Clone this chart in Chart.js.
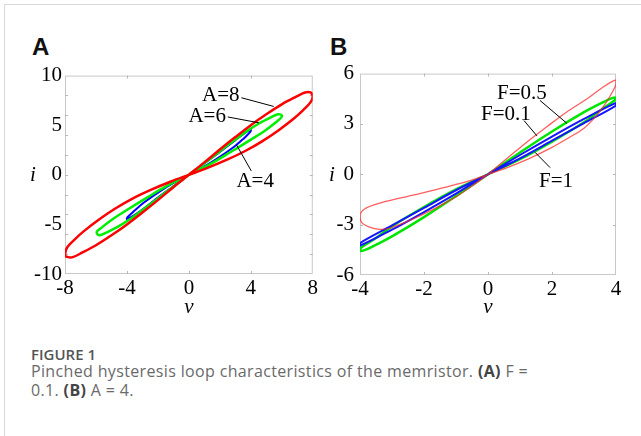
<!DOCTYPE html>
<html>
<head>
<meta charset="utf-8">
<script src="https://cdn.jsdelivr.net/npm/chart.js@4.4.0/dist/chart.umd.min.js"></script>
<style>
  body { margin: 0; width: 641px; height: 436px; background: #fff; position: relative; overflow: hidden; }
  .edge { position: absolute; left: 4px; top: 4px; width: 700px; height: 500px; border-left: 1px solid #d8d8d8; border-top: 1px solid #d8d8d8; }
  .panel { position: absolute; font: bold 24px "Liberation Sans", sans-serif; color: #111; }
  canvas { position: absolute; }
  #fig { position: absolute; left: 31px; top: 344px; font: 600 15px "Open Sans", sans-serif; color: #555; line-height: 20px; }
  #cap { position: absolute; left: 31px; top: 362px; font: 16px "Open Sans", sans-serif; letter-spacing: 0.35px; color: #6a6a6a; line-height: 19px; }
  #cap b { color: #444; }
</style>
</head>
<body>
<div class="edge"></div>
<div class="panel" style="left:32px;top:33px">A</div>
<div class="panel" style="left:330px;top:33px">B</div>
<canvas id="chartA" width="300" height="260" style="left:20px;top:60px"></canvas>
<canvas id="chartB" width="321" height="265" style="left:320px;top:55px"></canvas>
<div id="fig">FIGURE 1</div>
<div id="cap">Pinched hysteresis loop characteristics of the memristor. <b>(A)</b> F =<br>0.1. <b>(B)</b> A = 4.</div>
<script>
// Panel A: F = 0.1, amplitude A = 8, 6, 4
const vA8 = [0, 1.0, 2.0, 3.0, 4.0, 5.0, 6.0, 6.9, 7.5, 7.85, 8.0, 7.85, 7.4, 6.8, 5.8, 4.75, 3.7, 2.5, 1.2, 0,
  -1.2, -2.5, -3.7, -4.75, -5.8, -6.8, -7.4, -7.85, -8.0, -7.8, -7.5, -6.9, -6.0, -5.0, -4.0, -3.0, -2.0, -1.0, 0];
const iA8 = [0, 1.25, 2.55, 3.8, 5.0, 6.1, 7.1, 7.85, 8.3, 8.3, 7.9, 7.3, 6.55, 5.7, 4.5, 3.4, 2.45, 1.55, 0.7, 0,
  -0.7, -1.55, -2.45, -3.4, -4.5, -5.7, -6.55, -7.3, -8.1, -8.3, -8.3, -7.85, -7.1, -6.1, -5.0, -3.8, -2.55, -1.25, 0];
const vA6 = [0, 1.4, 2.65, 3.7, 4.55, 5.3, 5.75, 6.0, 5.95, 5.7, 5.0, 3.9, 2.65, 1.4, 0,
  -1.4, -2.65, -3.9, -5.0, -5.7, -5.95, -5.9, -5.75, -5.3, -4.55, -3.7, -2.65, -1.4, 0];
const iA6 = [0, 1.65, 3.15, 4.35, 5.2, 5.8, 6.1, 6.0, 5.75, 5.4, 4.55, 3.45, 2.25, 1.1, 0,
  -1.1, -2.25, -3.45, -4.55, -5.4, -5.75, -6.0, -6.1, -5.8, -5.2, -4.35, -3.15, -1.65, 0];
const vA4 = [0, 1.0, 2.0, 3.0, 3.65, 4.0, 3.95, 3.5, 2.9, 1.8, 0.8, 0,
  -0.8, -1.8, -2.9, -3.5, -3.95, -4.0, -3.65, -3.0, -2.0, -1.0, 0];
const iA4 = [0, 1.15, 2.3, 3.5, 4.25, 4.55, 4.3, 3.6, 2.8, 1.6, 0.65, 0,
  -0.65, -1.6, -2.8, -3.6, -4.25, -4.45, -4.2, -3.5, -2.3, -1.15, 0];

// Panel B: A = 4, frequency F varies
const vRed = [0, 0.6, 1.2, 1.85, 2.45, 3.1, 3.6, 3.9, 4.0, 4.0, 3.9, 3.7, 3.55, 3.3, 3.0, 2.5, 2.0, 1.3, 0.6, 0,
  -0.56, -1.2, -2.1, -3.2, -3.8, -4.0, -3.95, -3.7, -3.4, -3.05, -2.1, -1.1, -0.5, 0];
const iRed = [0, 0.95, 1.9, 2.85, 3.7, 4.5, 5.2, 5.55, 5.6, 5.35, 4.95, 4.3, 3.9, 3.3, 2.75, 2.15, 1.6, 0.95, 0.4, 0,
  -0.38, -0.7, -1.14, -1.62, -2.0, -2.4, -2.86, -3.15, -3.28, -3.2, -2.45, -1.45, -0.7, 0];
const vGreen = [0, 1.0, 2.0, 3.0, 3.6, 3.9, 4.0, 3.95, 3.5, 3.0, 2.0, 1.0, 0,
  -1.0, -2.0, -3.0, -3.5, -3.95, -4.0, -3.9, -3.6, -3.0, -2.0, -1.0, 0];
const iGreen = [0, 1.3, 2.55, 3.7, 4.3, 4.55, 4.55, 4.4, 3.8, 3.1, 1.95, 0.9, 0,
  -0.9, -1.95, -3.1, -3.8, -4.35, -4.55, -4.55, -4.3, -3.7, -2.55, -1.3, 0];
const vBlue = [0, 1, 2, 3, 4, 4, 3, 2, 1, 0, -1, -2, -3, -4, -4, -3, -2, -1, 0];
const iBlue = [0, 1.15, 2.25, 3.3, 4.25, 4.1, 3.05, 2.0, 0.95, 0, -0.95, -2.0, -3.05, -4.1, -4.25, -3.3, -2.25, -1.15, 0];

// labels with leader lines: text centre, leader start, leader end (data units)
const notesA = [
  { text: 'A=8', at: [2.06, 8.06], from: [3.39, 7.77], to: [5.48, 6.89] },
  { text: 'A=6', at: [1.18, 6.02], from: [2.51, 5.83], to: [4.53, 5.24] },
  { text: 'A=4', at: [4.28, -0.58], from: [4.03, 0.39], to: [3.08, 3.01] }
];
const notesB = [
  { text: 'F=0.5', at: [1.06, 4.86], from: [1.625, 4.4], to: [2.47, 3.03] },
  { text: 'F=0.1', at: [0.56, 3.6], from: [1.125, 3.2], to: [1.53, 2.29] },
  { text: 'F=1', at: [2.125, -0.34], from: [1.94, 0.4], to: [1.47, 1.31] }
];

const SERIF = '"Liberation Serif", "Times New Roman", serif';

function pts(v, i) {
  return v.map((x, k) => ({ x: x, y: i[k] }));
}

// frame, inner tick marks, axis titles and the labelled leaders
const decor = {
  id: 'decor',
  beforeDatasetsDraw(chart, args, o) {
    const { ctx, chartArea: a, scales: { x, y } } = chart;
    ctx.save();
    ctx.strokeStyle = '#c8c8c8';
    ctx.lineWidth = 1;
    ctx.strokeRect(a.left + 0.5, a.top + 0.5, a.right - a.left - 1, a.bottom - a.top - 1);
    ctx.strokeStyle = '#b8b8b8';
    ctx.beginPath();
    o.xMarks.forEach(v => {
      const px = Math.round(x.getPixelForValue(v)) + 0.5;
      ctx.moveTo(px, a.top); ctx.lineTo(px, a.top + 3);
      ctx.moveTo(px, a.bottom); ctx.lineTo(px, a.bottom - 3);
    });
    o.yMarks.forEach(v => {
      const py = Math.round(y.getPixelForValue(v)) + 0.5;
      ctx.moveTo(a.left, py); ctx.lineTo(a.left + 3, py);
      ctx.moveTo(a.right, py); ctx.lineTo(a.right - 3, py);
    });
    ctx.stroke();
    ctx.restore();
  },
  afterDatasetsDraw(chart, args, o) {
    const { ctx, chartArea: a, scales: { x, y } } = chart;
    ctx.save();
    ctx.fillStyle = '#000';
    ctx.textAlign = 'center';
    ctx.textBaseline = 'middle';
    ctx.font = 'italic 21px ' + SERIF;
    ctx.fillText('i', a.left - o.yTitleGap, y.getPixelForValue(0) + 1);
    ctx.fillText('v', x.getPixelForValue(0), a.bottom + o.xTitleGap);
    ctx.font = '21px ' + SERIF;
    ctx.strokeStyle = '#000';
    ctx.lineWidth = 1;
    o.notes.forEach(n => {
      ctx.fillText(n.text, x.getPixelForValue(n.at[0]), y.getPixelForValue(n.at[1]) + 1);
      ctx.beginPath();
      ctx.moveTo(x.getPixelForValue(n.from[0]), y.getPixelForValue(n.from[1]));
      ctx.lineTo(x.getPixelForValue(n.to[0]), y.getPixelForValue(n.to[1]));
      ctx.stroke();
    });
    ctx.restore();
  }
};

function loop(v, i, color, width) {
  return {
    data: pts(v, i),
    showLine: true,
    borderColor: color,
    borderWidth: width,
    pointRadius: 0,
    tension: 0.35,
    fill: false
  };
}

function axis(min, max, step, size, pad, horizontal) {
  return {
    type: 'linear',
    min: min,
    max: max,
    grid: { display: false, drawTicks: false },
    border: { display: false },
    ticks: {
      stepSize: step,
      padding: pad,
      color: '#000',
      font: { family: SERIF, size: 21 }
    },
    afterFit: s => { if (horizontal) s.height = size; else s.width = size; }
  };
}

Chart.defaults.animation = false;

new Chart(document.getElementById('chartA'), {
  type: 'scatter',
  data: {
    datasets: [
      loop(vA8, iA8, '#ff0000', 2.5),
      loop(vA6, iA6, '#00ee00', 2.5),
      loop(vA4, iA4, '#0000ff', 2)
    ]
  },
  options: {
    responsive: false,
    layout: { padding: { top: 8, right: 2, left: 0, bottom: 0 } },
    scales: {
      x: axis(-8, 8, 4, 46, 2, true),
      y: axis(-10, 10, 5, 45, 3, false)
    },
    plugins: {
      legend: { display: false },
      tooltip: { enabled: false },
      decor: { xMarks: [-4, 0, 4], yMarks: [-8, -6, -4, -2, 0, 2, 4, 6, 8], notes: notesA, yTitleGap: 32, xTitleGap: 33 }
    }
  },
  plugins: [decor]
});

new Chart(document.getElementById('chartB'), {
  type: 'scatter',
  data: {
    datasets: [
      loop(vRed, iRed, 'rgba(255, 40, 40, 0.75)', 1.3),
      loop(vBlue, iBlue, '#1515ff', 2),
      loop(vGreen, iGreen, '#00e600', 2.5)
    ]
  },
  options: {
    responsive: false,
    layout: { padding: { top: 10, right: 25, left: 0, bottom: 0 } },
    scales: {
      x: axis(-4, 4, 2, 45, 2, true),
      y: axis(-6, 6, 3, 40, 6, false)
    },
    plugins: {
      legend: { display: false },
      tooltip: { enabled: false },
      decor: { xMarks: [-2, 0, 2], yMarks: [-3, 0, 3], notes: notesB, yTitleGap: 28, xTitleGap: 32 }
    }
  },
  plugins: [decor]
});
</script>
</body>
</html>
